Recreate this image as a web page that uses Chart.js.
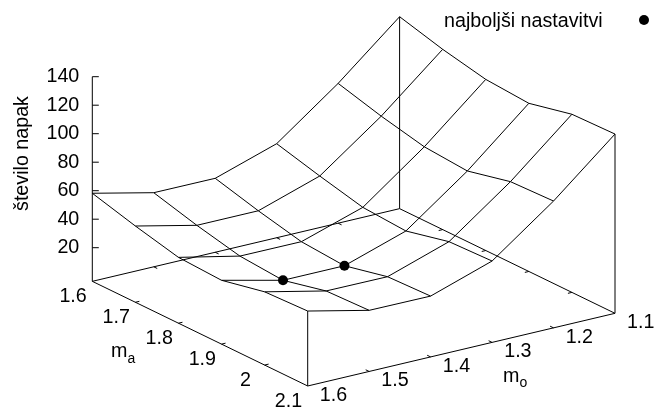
<!DOCTYPE html>
<html lang="sl">
<head>
    <meta charset="UTF-8">
    <title>Število napak</title>
    <script src="https://cdn.jsdelivr.net/npm/chart.js"></script>
    <style>
        html, body { margin: 0; padding: 0; background: #fff; }
        canvas { display: block; }
    </style>
</head>
<body>
<canvas id="napakeChart" width="655" height="407"></canvas>

<script>
    const maValues = [1.6, 1.7, 1.8, 1.9, 2.0, 2.1];
    const moValues = [1.6, 1.5, 1.4, 1.3, 1.2, 1.1];
    const maLabels = ['1.6', '1.7', '1.8', '1.9', '2', '2.1'];
    const moLabels = ['1.6', '1.5', '1.4', '1.3', '1.2', '1.1'];
    const zTicks = [20, 40, 60, 80, 100, 120, 140];

    // one row per ma, values in moValues order
    const napake16 = [58.2, 48.4, 48.3, 62.4, 94.5, 131.1];
    const napake17 = [49.9, 40.2, 40.2, 54.4, 86.2, 122.9];
    const napake18 = [42.6, 33.3, 33.2, 47.1, 79.4, 116.5];
    const napake19 = [41.2, 31.0, 31.0, 45.2, 77.1, 114.4];
    const napake20 = [47.8, 38.2, 38.0, 52.4, 84.3, 121.4];
    const napake21 = [49.0, 39.3, 39.1, 53.5, 85.4, 122.2];
    const napake = [napake16, napake17, napake18, napake19, napake20, napake21];

    const bestMa = [1.9, 1.9];
    const bestMo = [1.5, 1.4];
    const bestNapake = [31.0, 31.0];

    const FONT = '19.7px "Liberation Sans", Arial, sans-serif';
    const SUB_FONT = '14px "Liberation Sans", Arial, sans-serif';
    const floorZ = -3.6;

    // oblique view: x scale is px from the z axis, y scale is in z units
    function project(ma, mo, z) {
        const a = (ma - 1.6) * 10;
        const o = (1.6 - mo) * 10;
        return {
            x: a * 43.08 + o * 61.46,
            y: z - a * 14.69 + o * 10.2
        };
    }

    function wire(points, extra) {
        return Object.assign({
            data: points,
            showLine: true,
            borderColor: '#000',
            borderWidth: 1,
            pointRadius: 0,
            tension: 0,
            clip: false
        }, extra);
    }

    const datasets = [];

    // surface
    napake.forEach((row, i) => {
        datasets.push(wire(row.map((z, j) => project(maValues[i], moValues[j], z))));
    });
    moValues.forEach((mo, j) => {
        datasets.push(wire(napake.map((row, i) => project(maValues[i], mo, row[j]))));
    });

    // floor
    const maFirst = maValues[0], maLast = maValues[5];
    const moFirst = moValues[0], moLast = moValues[5];
    datasets.push(wire([
        project(maFirst, moFirst, floorZ),
        project(maLast, moFirst, floorZ),
        project(maLast, moLast, floorZ),
        project(maFirst, moLast, floorZ),
        project(maFirst, moFirst, floorZ)
    ]));

    // corner verticals
    datasets.push(wire([project(maFirst, moFirst, floorZ), project(maFirst, moFirst, zTicks[6])]));
    datasets.push(wire([project(maLast, moFirst, floorZ), project(maLast, moFirst, napake21[0])]));
    datasets.push(wire([project(maLast, moLast, floorZ), project(maLast, moLast, napake21[5])]));
    datasets.push(wire([project(maFirst, moLast, floorZ), project(maFirst, moLast, napake16[5])]));

    // inward ticks on the floor edges
    maValues.slice(1, 5).forEach(ma => {
        datasets.push(wire([project(ma, moFirst, floorZ), project(ma, moFirst - 0.0065, floorZ)]));
        datasets.push(wire([project(ma, moLast, floorZ), project(ma, moLast + 0.0065, floorZ)]));
    });
    moValues.slice(1, 5).forEach(mo => {
        datasets.push(wire([project(maLast, mo, floorZ), project(maLast - 0.008, mo, floorZ)]));
        datasets.push(wire([project(maFirst, mo, floorZ), project(maFirst + 0.008, mo, floorZ)]));
    });

    // z axis ticks
    zTicks.forEach(z => {
        datasets.push(wire([{ x: 0, y: z }, { x: 6.5, y: z }]));
    });

    // best settings
    datasets.push({
        data: bestMa.map((ma, i) => project(ma, bestMo[i], bestNapake[i])),
        showLine: false,
        pointRadius: 5,
        pointBackgroundColor: '#000',
        pointBorderWidth: 0,
        clip: false
    });

    const textPlugin = {
        id: 'besedilo',
        afterDraw(chart) {
            const ctx = chart.ctx;
            const sx = chart.scales.x, sy = chart.scales.y;
            ctx.save();
            ctx.fillStyle = '#000';
            ctx.font = FONT;
            ctx.textAlign = 'center';
            ctx.textBaseline = 'middle';

            maLabels.forEach((label, i) => {
                const p = project(maValues[i], moFirst, floorZ);
                ctx.fillText(label, sx.getPixelForValue(p.x) - 19.2, sy.getPixelForValue(p.y) + 15.5);
            });
            moLabels.forEach((label, j) => {
                const p = project(maLast, moValues[j], floorZ);
                ctx.fillText(label, sx.getPixelForValue(p.x) + 25.8, sy.getPixelForValue(p.y) + 9.5);
            });

            ctx.textAlign = 'left';
            ctx.textBaseline = 'alphabetic';
            ctx.fillText('m', 111, 356.7);
            ctx.fillText('m', 503, 381.7);
            ctx.fillText('najboljši nastavitvi', 444, 26.7);
            ctx.font = SUB_FONT;
            ctx.fillText('a', 127.5, 362.7);
            ctx.fillText('o', 519.5, 387);

            ctx.font = FONT;
            ctx.save();
            ctx.translate(27.5, 153.5);
            ctx.rotate(-Math.PI / 2);
            ctx.textAlign = 'center';
            ctx.fillText('število napak', 0, 0);
            ctx.restore();

            // legend key
            ctx.beginPath();
            ctx.arc(644, 20, 5, 0, Math.PI * 2);
            ctx.fill();
            ctx.restore();
        }
    };

    new Chart(document.getElementById('napakeChart'), {
        type: 'scatter',
        data: { datasets: datasets },
        plugins: [textPlugin],
        options: {
            responsive: false,
            animation: false,
            layout: { padding: { left: 0, right: 0, top: 19.7, bottom: 16.8 }, autoPadding: false },
            plugins: {
                legend: { display: false },
                tooltip: { enabled: false }
            },
            scales: {
                x: { type: 'linear', display: false, min: 0, max: 562.7 },
                y: {
                    type: 'linear',
                    min: -80,
                    max: 180,
                    grid: { display: false, drawTicks: false },
                    border: { display: false },
                    afterFit(scale) {
                        scale.width = 92.3;
                        scale.paddingTop = 0;
                        scale.paddingBottom = 0;
                    },
                    ticks: {
                        stepSize: 20,
                        autoSkip: false,
                        padding: 13,
                        color: '#000',
                        font: { family: '"Liberation Sans", Arial, sans-serif', size: 19.7 },
                        callback: value => zTicks.includes(value) ? String(value) : ''
                    }
                }
            }
        }
    });
</script>

</body>
</html>
